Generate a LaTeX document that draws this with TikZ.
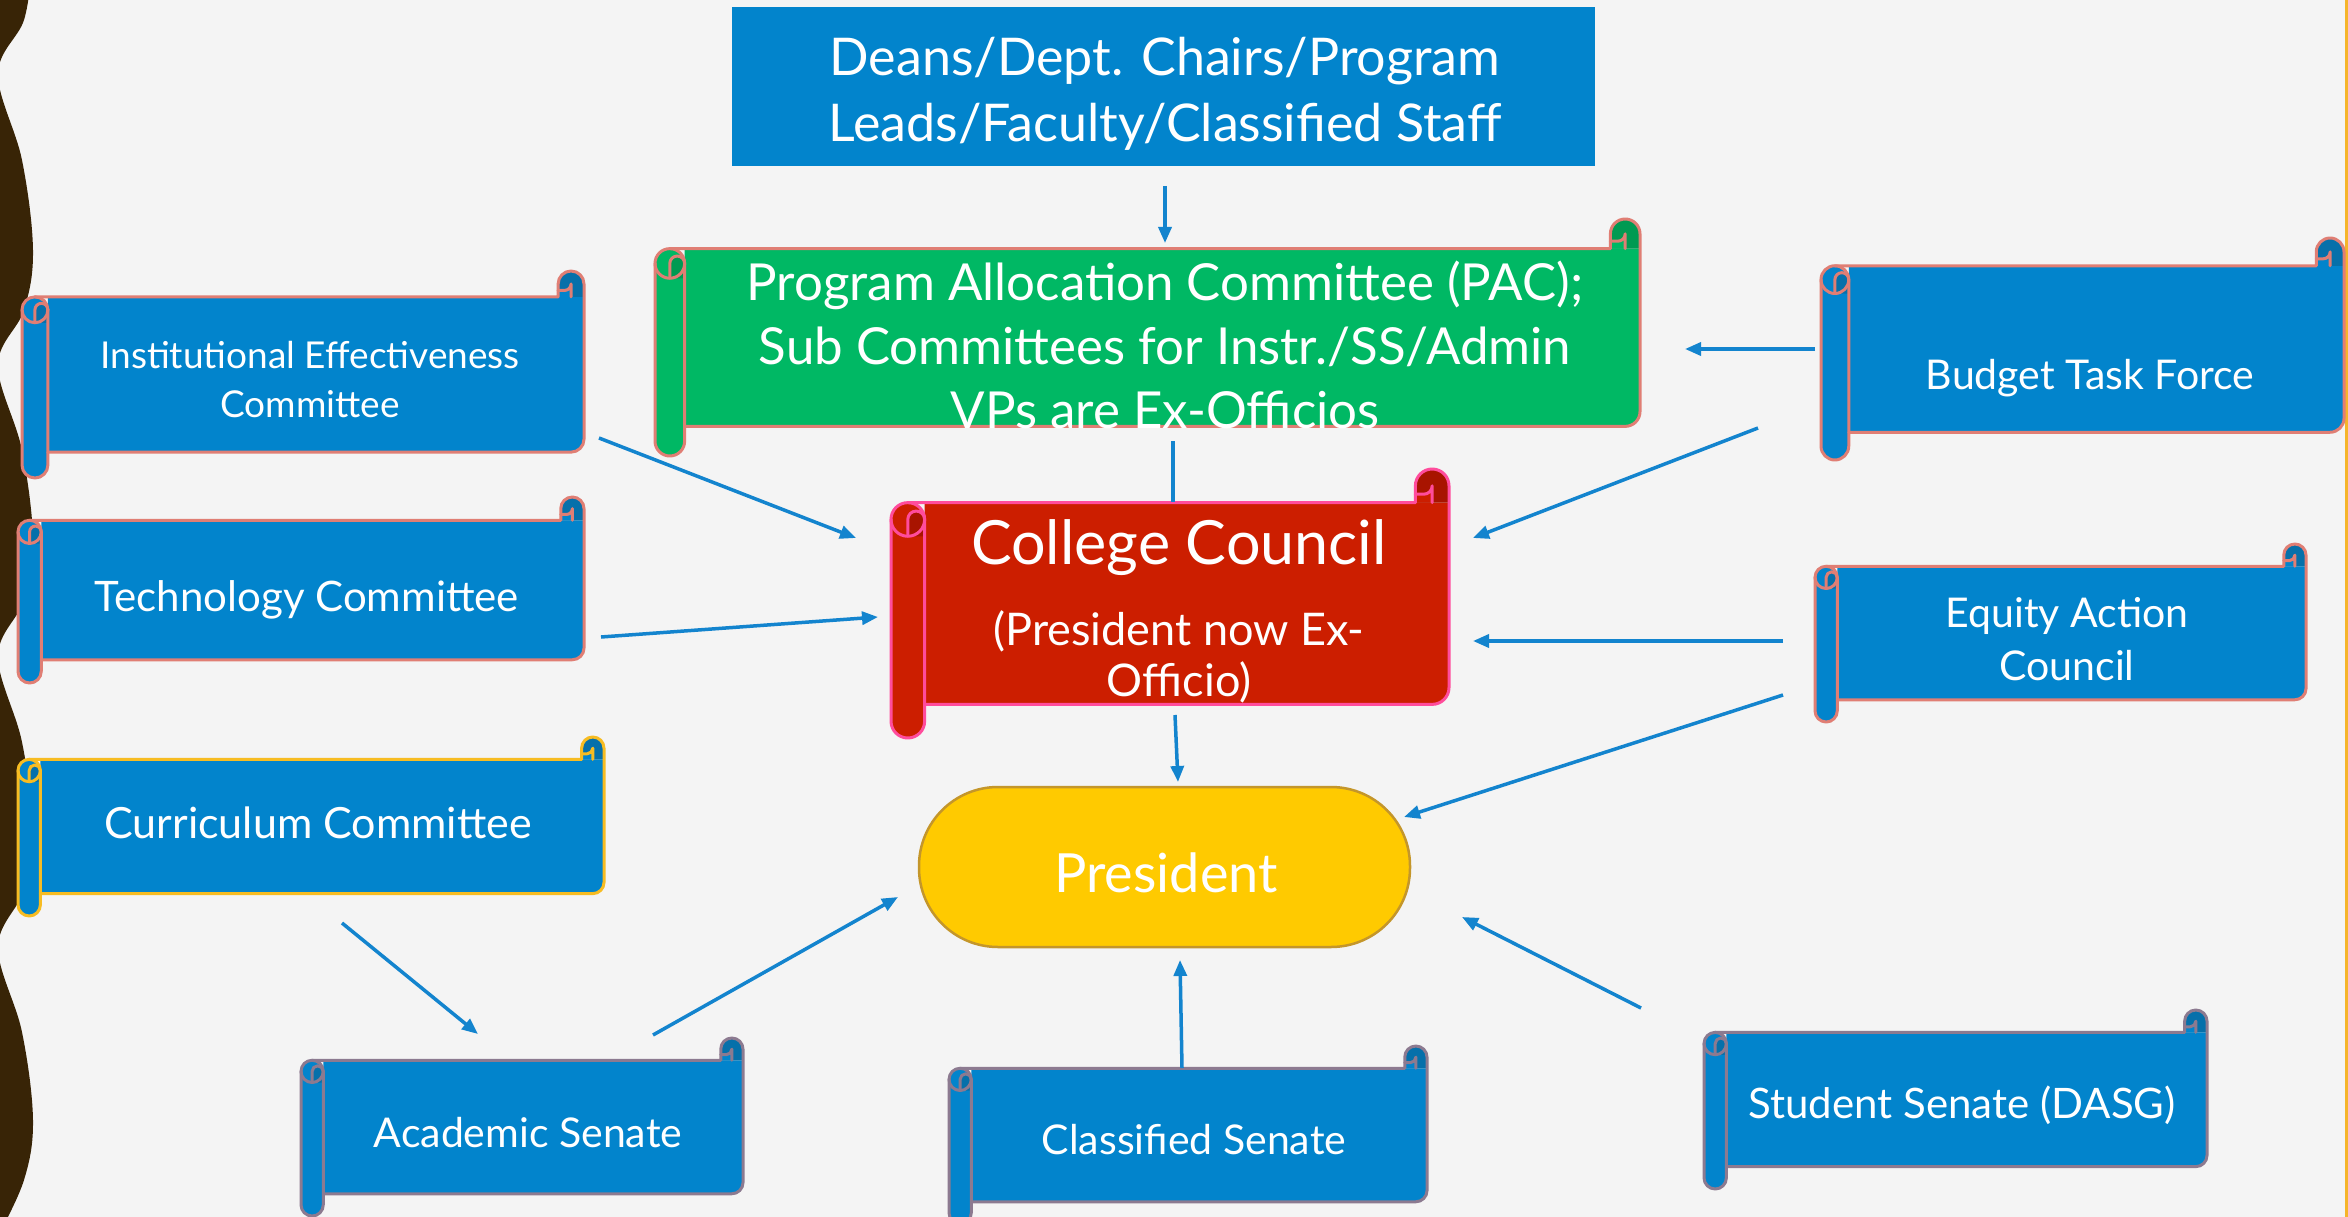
\documentclass[tikz,border=0pt]{standalone}
\usepackage{fontspec}
\setmainfont{Lato}
\usetikzlibrary{arrows.meta}
\definecolor{bg}{HTML}{F4F4F4}
\definecolor{brownw}{HTML}{382406}
\definecolor{sblue}{HTML}{0284CC}
\definecolor{sbluedk}{HTML}{0670AA}
\definecolor{sgreen}{HTML}{00B864}
\definecolor{sgreendk}{HTML}{009A52}
\definecolor{sred}{HTML}{CC1E00}
\definecolor{sreddk}{HTML}{A81400}
\definecolor{salmon}{HTML}{E07E74}
\definecolor{hotpink}{HTML}{FF4C9C}
\definecolor{goldline}{HTML}{F7BC22}
\definecolor{mauve}{HTML}{8C7A90}
\definecolor{pres}{HTML}{FFCA00}
\definecolor{presline}{HTML}{C4962A}
\definecolor{arrowc}{HTML}{1384CE}
\definecolor{orangeline}{HTML}{F5B52A}

\newcommand\drawscroll[7]{%
\pgfmathsetmacro\sxL{#1}\pgfmathsetmacro\sxT{#2}\pgfmathsetmacro\sxR{#3}\pgfmathsetmacro\sxB{#4}%
\pgfmathsetmacro\sxC{(\sxB-\sxT)/8}\pgfmathsetmacro\sxH{\sxC/2}\pgfmathsetmacro\sxQ{\sxC/4}%
\fill[#5] (\sxL+\sxC,\sxT+\sxC) -- (\sxR,\sxT+\sxC) -- (\sxR,\sxB-\sxC-\sxH) arc[start angle=0,end angle=90,radius=\sxH] -- (\sxL+\sxC,\sxB-\sxC) -- cycle;
\fill[#5] (\sxL,\sxT+\sxC+\sxH) rectangle (\sxL+\sxC,\sxB-\sxH);
\fill[#5] (\sxL+\sxH,\sxT+\sxC+\sxH) circle[radius=\sxH];
\fill[#5] (\sxL+\sxH,\sxB-\sxH) circle[radius=\sxH];
\fill[#6] (\sxR-\sxC,\sxT+\sxC) -- (\sxR-\sxC,\sxT+\sxH) arc[start angle=180,end angle=360,radius=\sxH] -- (\sxR,\sxT+\sxC) -- cycle;
\fill[#5] (\sxR-\sxC,\sxT+\sxC) -- (\sxR-\sxC,\sxT+\sxH+\sxQ) -- (\sxR-\sxH-\sxQ,\sxT+\sxH+\sxQ) arc[start angle=90,end angle=0,radius=\sxQ] -- (\sxR-\sxH,\sxT+\sxC) -- cycle;
\fill[#6] (\sxL+\sxH,\sxT+2*\sxC) -- (\sxL+\sxH,\sxT+\sxC+\sxH) arc[start angle=180,end angle=360,radius=\sxQ] -- (\sxL+\sxC,\sxT+2*\sxC) -- cycle;
\begin{scope}[draw=#7,line width=3pt,line join=round,line cap=round]
\draw (\sxL+\sxH,\sxT+\sxC) -- (\sxR-\sxC,\sxT+\sxC) -- (\sxR-\sxC,\sxT+\sxH) arc[start angle=180,end angle=360,radius=\sxH] -- (\sxR,\sxB-\sxC-\sxH) arc[start angle=0,end angle=90,radius=\sxH] -- (\sxL+\sxC,\sxB-\sxC);
\draw (\sxL+\sxC,\sxT+\sxC+\sxH) -- (\sxL+\sxC,\sxB-\sxH) arc[start angle=0,end angle=180,radius=\sxH] -- (\sxL,\sxT+\sxC+\sxH);
\draw (\sxL+\sxH,\sxT+\sxC+\sxH) circle[radius=\sxH];
\draw (\sxL+\sxH,\sxT+2*\sxC) -- (\sxL+\sxH,\sxT+\sxC+\sxH) arc[start angle=180,end angle=360,radius=\sxQ];
\draw (\sxR-\sxC,\sxT+\sxH+\sxQ) -- (\sxR-\sxH-\sxQ,\sxT+\sxH+\sxQ) arc[start angle=90,end angle=0,radius=\sxQ] -- (\sxR-\sxH,\sxT+\sxC);
\end{scope}}

\tikzset{
  txt/.style={text=white,align=center,inner sep=0pt},
  conn/.style={draw=arrowc,line width=3.5pt,-{Triangle[length=16pt,width=13pt]}},
  plainconn/.style={draw=arrowc,line width=3.5pt}
}

\begin{document}
\begin{tikzpicture}[x=1pt,y=-1pt]
\useasboundingbox (0,0) rectangle (2348,1217);
\fill[bg] (0,0) rectangle (2348,1217);
% wavy left band
\fill[brownw] (-10,-40) -- plot[smooth,tension=0.6] coordinates {(32,-34) (24,20) (-2,74) (22,160) (33,250) (24,310) (-2,365) (22,450) (33,540) (24,600) (-2,656) (22,742) (33,830) (24,890) (-2,947) (22,1032) (33,1120) (24,1180) (-2,1236)} -- (-10,1240) -- cycle;
\fill[orangeline] (2345,0) rectangle (2348,1217);

% top box
\node[fill=sblue,minimum width=863pt,minimum height=159pt,inner sep=0pt] (topbox) at (1163.5,86.5) {};
\node[txt,font=\fontsize{52}{66}\selectfont] (top) at (1165,94) {Deans/Dept. Chairs/Program\\Leads/Faculty/Classified Staff};

% scrolls
\drawscroll{655}{219}{1640}{456}{sgreen}{sgreendk}{salmon}
\drawscroll{891}{469}{1449}{738}{sred}{sreddk}{hotpink}
\drawscroll{22}{271}{584}{478}{sblue}{sbluedk}{salmon}
\drawscroll{18}{497}{584}{683}{sblue}{sbluedk}{salmon}
\drawscroll{18}{737}{604}{916}{sblue}{sbluedk}{goldline}
\drawscroll{301}{1038}{743}{1216}{sblue}{sbluedk}{mauve}
\drawscroll{949}{1046}{1427}{1224}{sblue}{sbluedk}{mauve}
\drawscroll{1704}{1010}{2207}{1189}{sblue}{sbluedk}{mauve}
\drawscroll{1821}{238}{2344}{460}{sblue}{sbluedk}{salmon}
\drawscroll{1815}{544}{2306}{722}{sblue}{sbluedk}{salmon}

% president
\node[draw=presline,fill=pres,line width=2.5pt,rounded corners=79pt,minimum width=491pt,minimum height=160pt,inner sep=0pt] (presbox) at (1164.5,867) {};
\node[txt,font=\fontsize{54}{60}\selectfont] (pres) at (1166,873) {President};

% scroll texts
\node[txt,font=\fontsize{51}{64}\selectfont] (pac) at (1165,345) {Program Allocation Committee (PAC);\\Sub Committees for Instr./SS/Admin\\VPs are Ex-Officios};
\node[txt,font=\fontsize{61}{66}\selectfont] (cc) at (1179,548) {College Council};
\node[txt,font=\fontsize{45}{51}\selectfont] (ccsub) at (1179,657) {(President now Ex-\\Officio)};
\node[txt,font=\fontsize{37}{49}\selectfont] (ie) at (310,380) {Institutional Effectiveness\\Committee};
\node[txt,font=\fontsize{42}{50}\selectfont] (tech) at (307,600) {Technology Committee};
\node[txt,font=\fontsize{43}{50}\selectfont] (curr) at (318,823) {Curriculum Committee};
\node[txt,font=\fontsize{41}{50}\selectfont] (acad) at (528,1133) {Academic Senate};
\node[txt,font=\fontsize{41}{50}\selectfont] (class) at (1194,1140) {Classified Senate};
\node[txt,font=\fontsize{42}{50}\selectfont] (student) at (1962,1105) {Student Senate (DASG)};
\node[txt,font=\fontsize{41}{50}\selectfont] (budget) at (2090,378) {Budget Task Force};
\node[txt,font=\fontsize{41}{53}\selectfont] (equity) at (2067,639) {Equity Action\\Council};

% connector end points
\coordinate (top-o) at (1165,186);   \coordinate (pac-i) at (1165,243);
\coordinate (pac-o) at (1173,441);   \coordinate (cc-top) at (1173,502);
\coordinate (ie-o) at (599,438);     \coordinate (cc-ie) at (856,538);
\coordinate (tech-o) at (601,637);   \coordinate (cc-tech) at (878,617);
\coordinate (bud-o1) at (1815,349);  \coordinate (pac-bud) at (1685,349);
\coordinate (bud-o2) at (1758,428);  \coordinate (cc-bud) at (1473,538);
\coordinate (eq-o1) at (1783,641);   \coordinate (cc-eq) at (1473,641);
\coordinate (eq-o2) at (1783,695);   \coordinate (pr-eq) at (1404,817);
\coordinate (cc-o) at (1175,715);    \coordinate (pr-cc) at (1178,782);
\coordinate (curr-o) at (342,923);   \coordinate (acad-i) at (478,1034);
\coordinate (acad-o) at (653,1035);  \coordinate (pr-acad) at (898,897);
\coordinate (class-o) at (1182,1068); \coordinate (pr-class) at (1180,960);
\coordinate (stu-o) at (1641,1008);  \coordinate (pr-stu) at (1462,917);

\draw[conn] (top-o) -- (pac-i);
\draw[plainconn] (pac-o) -- (cc-top);
\draw[conn] (ie-o) -- (cc-ie);
\draw[conn] (tech-o) -- (cc-tech);
\draw[conn] (bud-o1) -- (pac-bud);
\draw[conn] (bud-o2) -- (cc-bud);
\draw[conn] (eq-o1) -- (cc-eq);
\draw[conn] (eq-o2) -- (pr-eq);
\draw[conn] (cc-o) -- (pr-cc);
\draw[conn] (curr-o) -- (acad-i);
\draw[conn] (acad-o) -- (pr-acad);
\draw[conn] (class-o) -- (pr-class);
\draw[conn] (stu-o) -- (pr-stu);
\end{tikzpicture}
\end{document}
